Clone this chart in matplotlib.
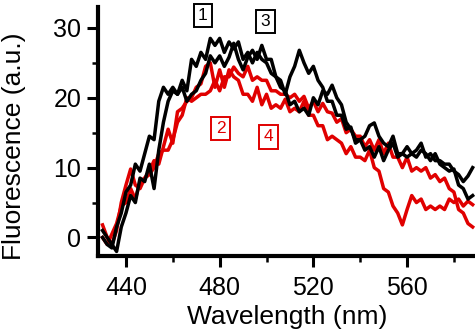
import numpy as np
import matplotlib
matplotlib.use("Agg")
import matplotlib.pyplot as plt
from matplotlib.ticker import MultipleLocator

plt.rcParams['font.family'] = ['Liberation Sans', 'DejaVu Sans']

# wavelength grid (nm), 2 nm step
wavelength = np.arange(430, 590, 2)

# black traces
trace1 = [0, -1, -1.5, 1.5, 3.5, 6.5, 7.5, 10.5, 9.5, 12,
          14.5, 14, 19.5, 21.5, 20.5, 21.5, 20.5, 22.5, 21, 25.5,
          24.5, 26.5, 25.5, 28.5, 27.5, 28.5, 26.5, 28, 27, 28,
          25.5, 26.5, 25, 26.5, 25.5, 25, 23.5, 23, 21.5, 21,
          19, 19.5, 18, 18.5, 17.5, 20, 19, 21, 20.5, 21.8,
          20, 19, 16.5, 15.5, 14, 14, 12.5, 13, 11.5, 13,
          11, 12.5, 13.5, 11.5, 12, 13, 12, 11.5, 12.5, 12,
          11, 12, 10.5, 10, 9.5, 9.8, 7.5, 7, 5.5, 6]
trace3 = [1, 0, -1, -2, 1.5, 3.5, 6, 5, 8.5, 8,
          10.5, 7, 12.5, 16.5, 19.5, 21, 20.5, 21.5, 19.5, 20.5,
          21, 22.5, 23.5, 26, 25, 26, 24.5, 25.8, 27.8, 25.5,
          24, 25.8, 26.8, 25.5, 27.5, 25.5, 25.5, 23, 22.5, 20.5,
          23, 24.5, 26.8, 25, 23.5, 24.5, 22.5, 21.5, 19.5, 19.5,
          17.5, 17.5, 15.5, 15.8, 13.5, 14, 14.5, 16, 16.4, 14.5,
          13.5, 13, 14.5, 12, 12, 11.5, 12, 12.5, 13.5, 11.5,
          12, 11, 11, 10.5, 10.5, 9.5, 9, 8, 8.8, 10]

# red traces
trace2 = [1.8, 0, -1, 1, 5, 7.5, 9.8, 7.5, 7, 8.5,
          9.5, 11, 10.5, 13, 15.5, 13.5, 18, 18.5, 19.5, 20,
          21.5, 22, 24.5, 25, 21.5, 24, 21.5, 24, 23, 22.5,
          20.5, 20.5, 19.5, 21.5, 19, 20.5, 18.5, 19, 18.5, 19.8,
          18, 18.5, 18, 19.5, 17.5, 17.5, 16, 16, 14, 14.5,
          14, 13.5, 12, 13, 11.5, 11.5, 11, 12.5, 10, 9.5,
          7, 6.5, 4.5, 3.5, 1.8, 4, 6, 5, 5.5, 4,
          4.5, 4, 4.5, 4, 5.5, 5, 5.5, 4.5, 5.2, 4.7]
trace4 = [0, -1, 0.5, 2, 4.5, 5, 7, 5.5, 8, 8.5,
          9, 10, 12, 12.5, 12.5, 14, 16.5, 17.5, 20, 19.5,
          20, 20.5, 20.5, 21, 22.5, 21, 23, 23, 24.4, 23.5,
          23, 24.5, 22.5, 23, 22.5, 22.5, 21, 21, 20.5, 20.5,
          20, 20.5, 19.5, 20.2, 18.5, 19.5, 18, 19.2, 18, 17.8,
          16.5, 17, 15, 15.5, 14.5, 14.5, 13, 14, 12.5, 14,
          12, 13.5, 11.5, 11.5, 10, 11.5, 9.5, 10, 9.5, 10,
          8.5, 9, 8, 8.5, 7, 6.5, 4, 3.5, 2, 1.5]

labels = ["1", "2", "3", "4"]
label_x = [472.8, 480.4, 499.6, 500.9]
label_y = [31.8, 15.6, 30.9, 14.4]

fig = plt.figure(figsize=(4.75, 3.32), dpi=100)
ax = fig.add_axes([0.206, 0.23, 0.794, 0.749])

ax.plot(wavelength, trace4, color="#e00000", lw=2.5)
ax.plot(wavelength, trace2, color="#e00000", lw=2.5)
ax.plot(wavelength, trace3, color="black", lw=2.5)
ax.plot(wavelength, trace1, color="black", lw=2.5)

colors = ["black", "#e00000", "black", "#e00000"]
for t, x, y, c in zip(labels, label_x, label_y, colors):
    ax.text(x, y, t, color=c, fontsize=12.5, ha="center", va="center",
            bbox=dict(boxstyle="square,pad=0.25", fc="white", ec=c, lw=1.4))

ax.set_xlim(428, 589)
ax.set_ylim(-2.6, 33)
ax.xaxis.set_major_locator(MultipleLocator(40))
ax.xaxis.set_minor_locator(MultipleLocator(20))
ax.yaxis.set_major_locator(MultipleLocator(10))
ax.yaxis.set_minor_locator(MultipleLocator(5))

for s in ["top", "right"]:
    ax.spines[s].set_visible(False)
for s in ["left", "bottom"]:
    ax.spines[s].set_linewidth(3)

ax.tick_params(which="major", length=8, width=2.2, labelsize=18, direction="out")
ax.tick_params(which="minor", length=4.5, width=1.8, direction="out")
ax.tick_params(axis="x", which="major", pad=7)
ax.tick_params(axis="y", which="major", pad=4)

ax.set_xlabel("Wavelength (nm)", fontsize=19)
ax.set_ylabel("Fluorescence (a.u.)", fontsize=19)
ax.xaxis.set_label_coords(0.503, -0.197)
ax.yaxis.set_label_coords(-0.19, 0.44)

fig.savefig("out.png", dpi=100)
